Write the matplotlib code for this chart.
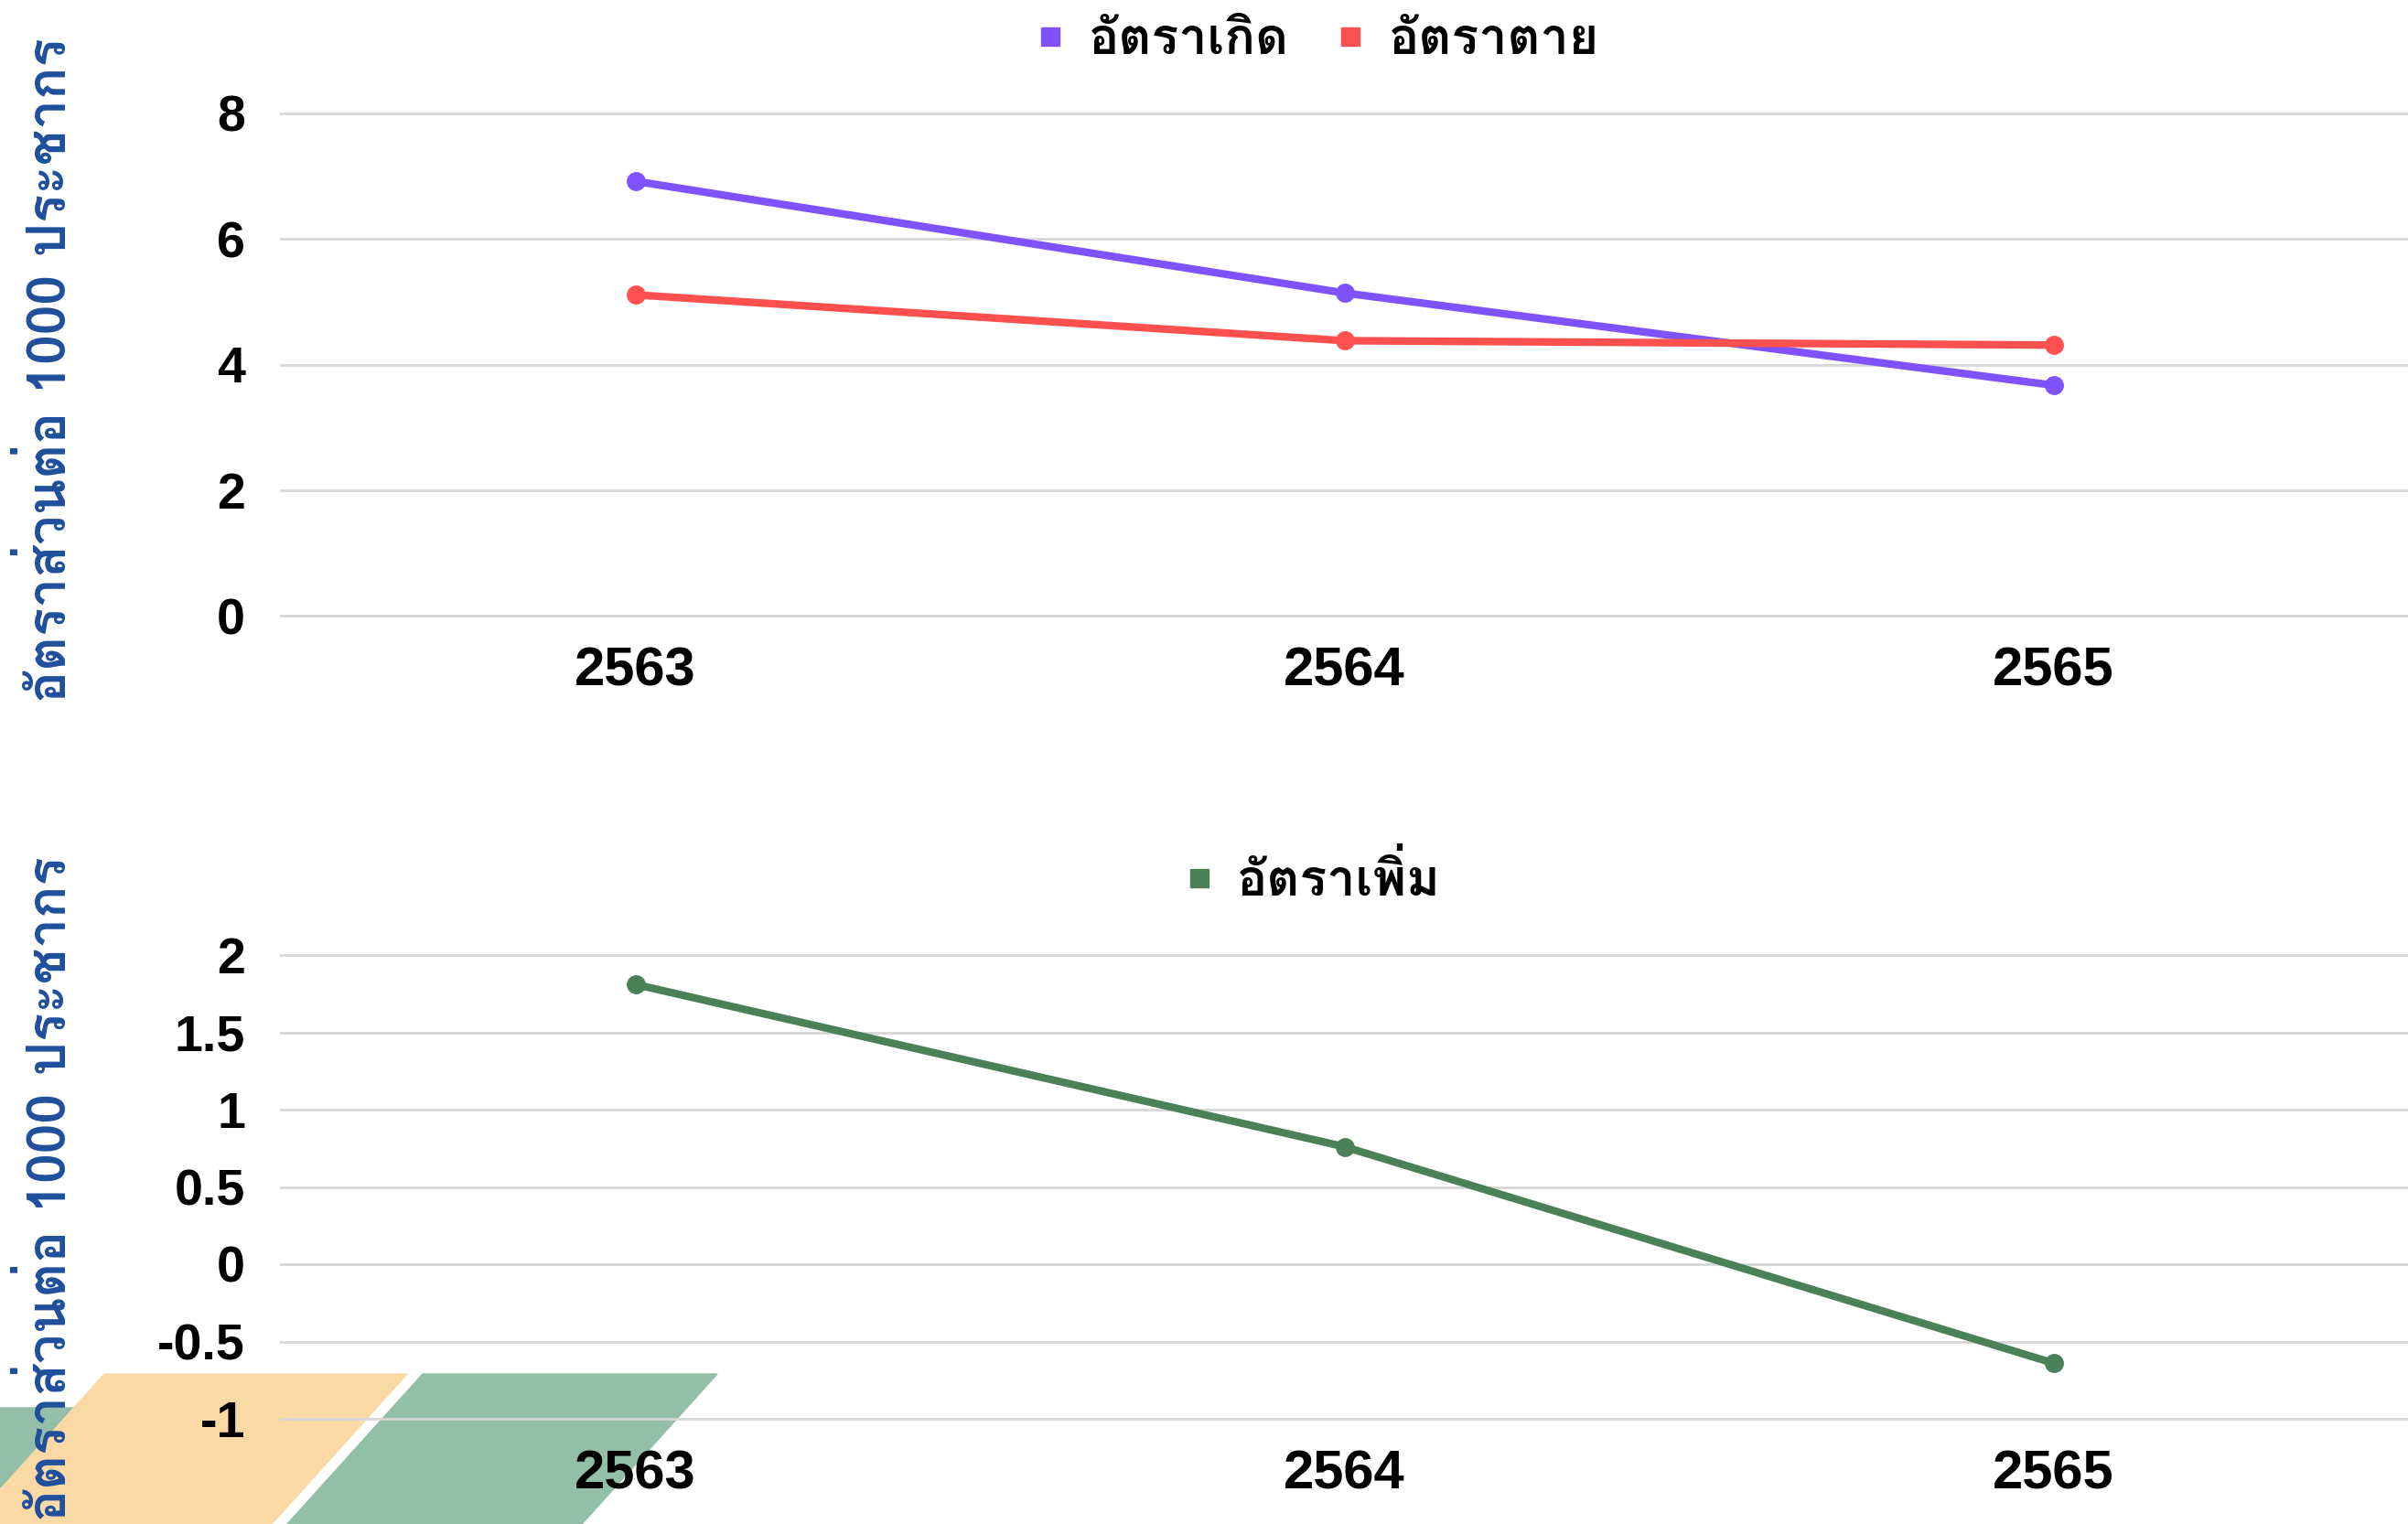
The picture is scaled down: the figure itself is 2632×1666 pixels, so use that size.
import matplotlib
matplotlib.use('Agg')
import matplotlib.pyplot as plt
from matplotlib import font_manager, ft2font
from matplotlib.lines import Line2D
from matplotlib.patches import Polygon

# data
years = ['2563', '2564', '2565']
birth_rate = [6.92, 5.14, 3.67]
death_rate = [5.11, 4.38, 4.31]
growth_rate = [1.81, 0.76, -0.64]

top_ticks = [0, 2, 4, 6, 8]
bottom_ticks = [-1, -0.5, 0, 0.5, 1, 1.5, 2]
bottom_ticklabels = ['-1', '-0.5', '0', '0.5', '1', '1.5', '2']

ylabel = 'อัตราส่วนต่อ 1000 ประชากร'
birth_label = 'อัตราเกิด'
death_label = 'อัตราตาย'
growth_label = 'อัตราเพิ่ม'

# find any installed font that has Thai glyphs
thai_font = None
for f in font_manager.fontManager.ttflist:
    try:
        cmap = ft2font.FT2Font(f.fname).get_charmap()
    except Exception:
        continue
    if 0x0E2D in cmap:
        thai_font = f.name
        if f.weight in ('bold', 700):
            break

families = ['Liberation Sans', 'DejaVu Sans']
if thai_font:
    families = [thai_font] + families
plt.rcParams['font.family'] = families

purple = '#8052fe'
red = '#ff5050'
green = '#4b8158'
blue = '#1f4e9c'
grid_c = '#d6d6d6'

W, H = 2632, 1666
fig = plt.figure(figsize=(W / 100, H / 100), dpi=100)
fig.patch.set_facecolor('white')

# decorative shapes at the bottom left
def px(points):
    return [(x / W, 1 - y / H) for x, y in points]

fig.patches.append(Polygon(px([(-60, 1539), (90, 1539), (-40, 1666), (-60, 1666)]),
                           closed=True, transform=fig.transFigure, color='#93bea7', zorder=-2))
fig.patches.append(Polygon(px([(114, 1502), (445, 1502), (297, 1666), (-34, 1666)]),
                           closed=True, transform=fig.transFigure, color='#fbd9a5', zorder=-1))
fig.patches.append(Polygon(px([(462, 1502), (784, 1502), (636, 1666), (314, 1666)]),
                           closed=True, transform=fig.transFigure, color='#93bea7', zorder=-1))

ax1 = fig.add_axes([307 / W, 1 - 673 / H, 1 - 307 / W, (673 - 124) / H])
ax2 = fig.add_axes([307 / W, 1 - 1551 / H, 1 - 307 / W, (1551 - 1044) / H])

x = list(range(len(years)))
ax1.plot(x, birth_rate, color=purple, lw=6, marker='o', ms=14, zorder=3)
ax1.plot(x, death_rate, color=red, lw=6, marker='o', ms=14, zorder=3)
ax2.plot(x, growth_rate, color=green, lw=6, marker='o', ms=14, zorder=3)

for ax, ticks in ((ax1, top_ticks), (ax2, bottom_ticks)):
    ax.set_facecolor('none')
    ax.set_xlim(-0.5, 2.5)
    ax.set_ylim(ticks[0], ticks[-1])
    ax.set_yticks(ticks)
    for y in ticks:
        ax.axhline(y, color=grid_c, lw=2, zorder=1, clip_on=False)
    for s in ax.spines.values():
        s.set_visible(False)
    ax.set_xticks(x)
    ax.set_xticklabels(years)
    ax.tick_params(length=0, labelsize=40, pad=28)
    ax.tick_params(axis='x', labelsize=43, pad=24)

ax1.set_yticklabels([str(t) for t in top_ticks])
ax2.set_yticklabels(bottom_ticklabels)
for ax in (ax1, ax2):
    for lab in ax.get_xticklabels() + ax.get_yticklabels():
        lab.set_fontfamily(['Liberation Sans', 'DejaVu Sans'])
        lab.set_fontweight('bold')
        lab.set_color('black')

# legends
def sq(c):
    return Line2D([], [], color=c, marker='s', ls='none', ms=15)

fig.legend([sq(purple), sq(red)], [birth_label, death_label], loc='center',
           bbox_to_anchor=(0.547, 0.973), ncol=2, frameon=False,
           handlelength=0.6, handletextpad=0.45, columnspacing=0.9,
           prop={'weight': 'bold', 'size': 40})
fig.legend([sq(green)], [growth_label], loc='center',
           bbox_to_anchor=(0.545, 0.4226), frameon=False,
           handlelength=0.6, handletextpad=0.45,
           prop={'weight': 'bold', 'size': 40})

fig.text(54 / W, 1 - 405 / H, ylabel, rotation=90, ha='center', va='center',
         color=blue, fontsize=42, fontweight='bold')
fig.text(54 / W, 1 - 1300 / H, ylabel, rotation=90, ha='center', va='center',
         color=blue, fontsize=42, fontweight='bold')

fig.savefig('out.png', dpi=100)
